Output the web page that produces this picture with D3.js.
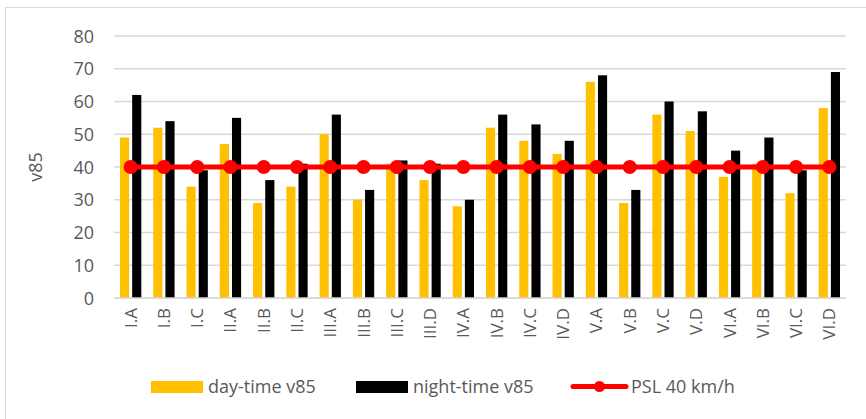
<!DOCTYPE html>
<html>
<head>
<meta charset="utf-8">
<script src="https://cdn.jsdelivr.net/npm/d3@7"></script>
<style>
  body { margin: 0; background: #fff; }
  text { font-family: "Open Sans", "Noto Sans", sans-serif; fill: #595959; }
</style>
</head>
<body>
<div id="chart"></div>
<script>
const categories = ["I.A","I.B","I.C","II.A","II.B","II.C","III.A","III.B","III.C","III.D",
  "IV.A","IV.B","IV.C","IV.D","V.A","V.B","V.C","V.D","VI.A","VI.B","VI.C","VI.D"];
const dayV85   = [49, 52, 34, 47, 29, 34, 50, 30, 41, 36, 28, 52, 48, 44, 66, 29, 56, 51, 37, 41, 32, 58];
const nightV85 = [62, 54, 39, 55, 36, 41, 56, 33, 42, 41, 30, 56, 53, 48, 68, 33, 60, 57, 45, 49, 39, 69];
const pslLimit = 40;
const yTicks = [0, 10, 20, 30, 40, 50, 60, 70, 80];
const seriesNames = ["day-time v85", "night-time v85", "PSL 40 km/h"];

(function () {
    const width = 866, height = 419;
    const left = 114, right = 846, top = 36, bottom = 298;

    const svg = d3.select('#chart').append('svg')
        .attr('width', width).attr('height', height);

    // chart border
    svg.append('rect')
        .attr('x', 5.5).attr('y', 7.5)
        .attr('width', 866).attr('height', 420)
        .attr('fill', 'none').attr('stroke', '#d9d9d9').attr('stroke-width', 1);

    const x0 = d3.scaleBand().domain(categories).range([left, right])
        .paddingInner(0.36).paddingOuter(0.18);
    const x1 = d3.scaleBand().domain(['day', 'night']).range([0, x0.bandwidth()])
        .paddingInner(0.25);
    const y = d3.scaleLinear().domain([0, 80]).range([bottom, top]);

    // gridlines
    svg.append('g').selectAll('line').data(yTicks).enter().append('line')
        .attr('x1', left).attr('x2', right)
        .attr('y1', d => y(d)).attr('y2', d => y(d))
        .attr('stroke', '#d9d9d9').attr('stroke-width', 1.5);

    // y tick labels
    svg.append('g').selectAll('text').data(yTicks).enter().append('text')
        .attr('x', 94).attr('y', d => y(d) + 6.5)
        .attr('text-anchor', 'end').attr('font-size', 18)
        .text(d => d);

    // y axis title
    svg.append('text')
        .attr('transform', `translate(42, ${(top + bottom) / 2}) rotate(-90)`)
        .attr('text-anchor', 'middle').attr('font-size', 18)
        .text('v85');

    // bars
    const rows = categories.map((c, i) => ({ cat: c, day: dayV85[i], night: nightV85[i] }));
    const groups = svg.append('g').selectAll('g').data(rows).enter().append('g')
        .attr('transform', d => `translate(${x0(d.cat)},0)`);

    groups.append('rect')
        .attr('x', x1('day')).attr('width', x1.bandwidth())
        .attr('y', d => y(d.day)).attr('height', d => y(0) - y(d.day))
        .attr('fill', '#ffc000');
    groups.append('rect')
        .attr('x', x1('night')).attr('width', x1.bandwidth())
        .attr('y', d => y(d.night)).attr('height', d => y(0) - y(d.night))
        .attr('fill', '#000');

    // axis line
    svg.append('line')
        .attr('x1', left).attr('x2', right)
        .attr('y1', y(0)).attr('y2', y(0))
        .attr('stroke', '#d9d9d9').attr('stroke-width', 1.5);

    // category labels
    svg.append('g').selectAll('text').data(categories).enter().append('text')
        .attr('transform', d => `translate(${x0(d) + x0.bandwidth() / 2 + 6}, 308) rotate(-90)`)
        .attr('text-anchor', 'end').attr('font-size', 17)
        .text(d => d);

    // PSL line
    const cx = d => x0(d) + x0.bandwidth() / 2;
    const line = d3.line().x(d => cx(d)).y(() => y(pslLimit));
    svg.append('path')
        .datum(categories)
        .attr('d', line)
        .attr('fill', 'none').attr('stroke', '#ff0000').attr('stroke-width', 5);
    svg.append('g').selectAll('circle').data(categories).enter().append('circle')
        .attr('cx', d => cx(d)).attr('cy', y(pslLimit)).attr('r', 7)
        .attr('fill', '#ff0000');

    // legend
    const lg = svg.append('g');
    lg.append('rect').attr('x', 151).attr('y', 381).attr('width', 52).attr('height', 12).attr('fill', '#ffc000');
    lg.append('text').attr('x', 208).attr('y', 393).attr('font-size', 18).text(seriesNames[0]);
    lg.append('rect').attr('x', 356).attr('y', 381).attr('width', 52).attr('height', 12).attr('fill', '#000');
    lg.append('text').attr('x', 413).attr('y', 393).attr('font-size', 18).text(seriesNames[1]);
    lg.append('line').attr('x1', 573).attr('x2', 626).attr('y1', 386.5).attr('y2', 386.5)
        .attr('stroke', '#ff0000').attr('stroke-width', 5).attr('stroke-linecap', 'round');
    lg.append('circle').attr('cx', 599.5).attr('cy', 386.5).attr('r', 5.5).attr('fill', '#ff0000');
    lg.append('text').attr('x', 631).attr('y', 393).attr('font-size', 18).text(seriesNames[2]);
})();
</script>
</body>
</html>
